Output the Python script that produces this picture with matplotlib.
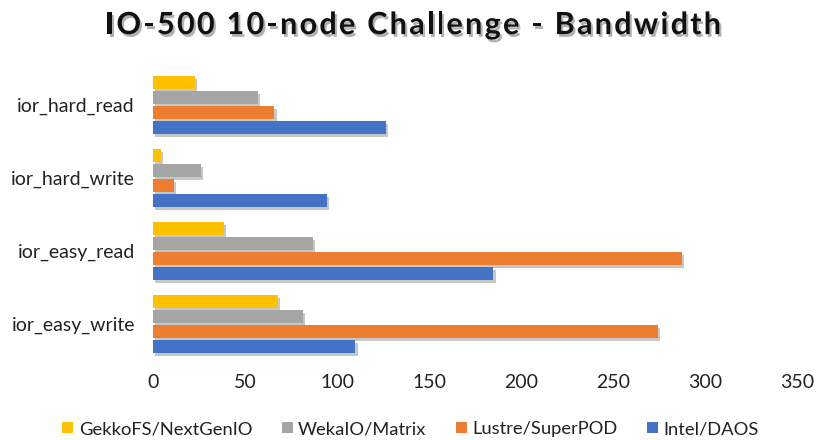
import matplotlib
matplotlib.use("Agg")
import matplotlib.pyplot as plt
import matplotlib.patheffects as pe
from matplotlib.patches import Patch
import numpy as np

categories = ["ior_hard_read", "ior_hard_write", "ior_easy_read", "ior_easy_write"]
series_names = ["GekkoFS/NextGenIO", "WekaIO/Matrix", "Lustre/SuperPOD", "Intel/DAOS"]
gekkofs = [23, 4.3, 38.6, 68]
wekaio = [57, 26, 86.7, 81.5]
lustre = [66, 11.5, 287.5, 274.6]
intel = [126.6, 94.4, 185, 110]
x_ticks = [0, 50, 100, 150, 200, 250, 300, 350]
title = "IO-500 10-node Challenge - Bandwidth"

colors = ["#FFC000", "#A5A5A5", "#ED7D31", "#4472C4"]
values = [gekkofs, wekaio, lustre, intel]

plt.rcParams["font.family"] = ["Lato", "DejaVu Sans"]

W, H = 821, 440
fig = plt.figure(figsize=(W / 100, H / 100), dpi=100)
ax = fig.add_axes([0.1864, 0.1807, 0.7844, 0.6636])

y = np.arange(len(categories))
step = 0.205
h = 0.18
offsets = [-1.5, -0.5, 0.5, 1.5]
shadow = [pe.withSimplePatchShadow(offset=(1.5, -2), shadow_rgbFace="black", alpha=0.22)]
for vals, col, off in zip(values, colors, offsets):
    ax.barh(y + off * step, vals, height=h, color=col, path_effects=shadow)

ax.set_ylim(3.5, -0.5)
ax.set_xlim(0, 350)
ax.set_xticks(x_ticks)
ax.set_xticklabels([str(t) for t in x_ticks])
ax.set_yticks(y)
ax.set_yticklabels(categories)
for s in ax.spines.values():
    s.set_visible(False)
ax.tick_params(axis="both", length=0, labelsize=14, colors="#222222")
ax.tick_params(axis="x", pad=10)
ax.tick_params(axis="y", pad=13)

# Letter-spaced title
renderer = fig.canvas.get_renderer()
tkw = dict(fontsize=22, fontweight="bold", color="#111111", va="center", ha="left",
           path_effects=[pe.withSimplePatchShadow(offset=(1.5, -2), shadow_rgbFace="gray", alpha=0.6)])
left_px, right_px = 105, 721

def text_width(s):
    t = fig.text(0, 0, s.replace(" ", "\u00a0") if s.endswith(" ") else s, **tkw)
    w = t.get_window_extent(renderer).width
    t.remove()
    return w

full_w = text_width(title)
extra = (right_px - left_px - full_w) / (len(title) - 1)
for i, ch in enumerate(title):
    if ch == " ":
        continue
    xpos = left_px + (text_width(title[:i]) if i > 0 else 0) + i * extra
    fig.text(xpos / W, 0.943, ch, **tkw)

handles = [Patch(facecolor=c, edgecolor="none") for c in colors]
fig.legend(handles, series_names, loc="center", bbox_to_anchor=(0.5, 0.025), ncol=4,
           frameon=False, fontsize=13.2, handlelength=0.6, handleheight=0.6,
           handletextpad=0.3, columnspacing=1.6, labelcolor="#222222")

fig.savefig("out.png", dpi=100)
